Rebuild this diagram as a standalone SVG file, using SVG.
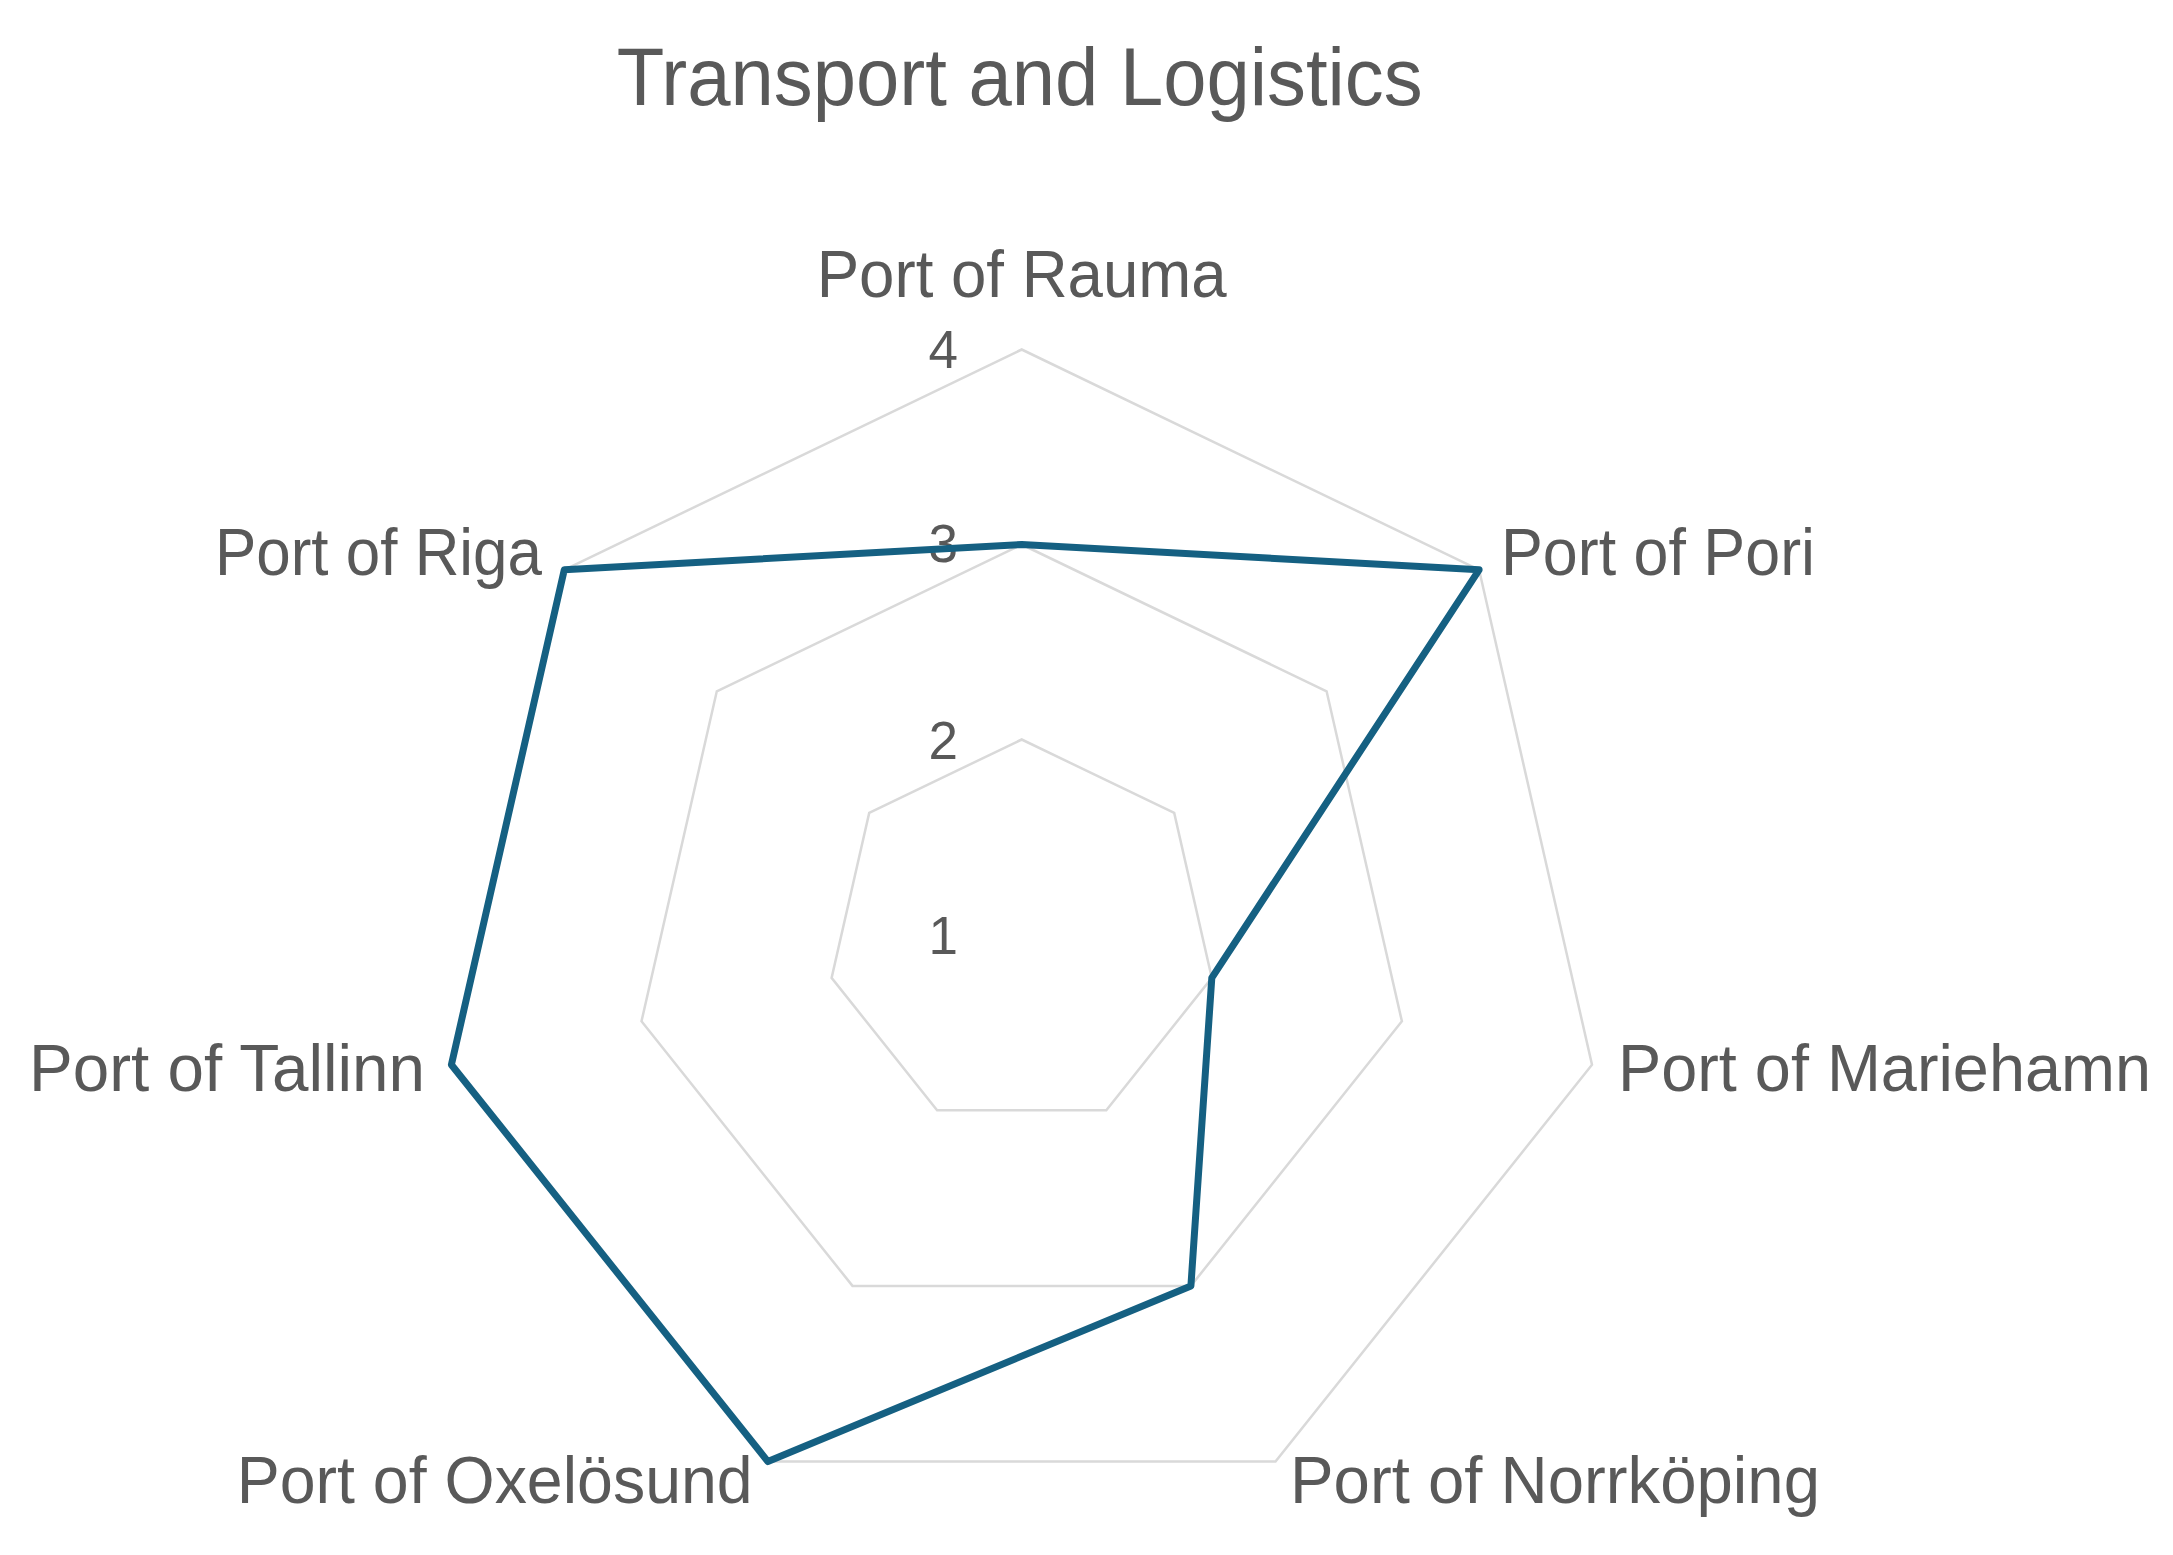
<svg xmlns="http://www.w3.org/2000/svg" width="2173" height="1555" viewBox="0 0 2173 1555">
  <style>
    .grid { fill: none; stroke: #d9d9d9; stroke-width: 2.5; }
    .data { fill: none; stroke: #156082; stroke-width: 7; stroke-linejoin: round; }
    .title { font-family: "Liberation Sans", Arial, sans-serif; font-size: 81px; fill: #595959; }
    .cat { font-family: "Liberation Sans", Arial, sans-serif; font-size: 67px; fill: #595959; }
    .tick { font-family: "Liberation Sans", Arial, sans-serif; font-size: 53px; fill: #595959; text-anchor: end; }
  </style>
  <rect width="2173" height="1555" fill="#ffffff"/>
  <g id="title">
    <text class="title" x="616.7" y="105" textLength="806" lengthAdjust="spacingAndGlyphs">Transport and Logistics</text>
  </g>
  <g id="gridlines">
    <polygon class="grid" points="1021.7,739.5 1174.2,812.9 1211.8,977.9 1106.3,1110.2 937.1,1110.2 831.6,977.9 869.2,812.9"/>
    <polygon class="grid" points="1021.7,544.5 1326.6,691.3 1401.9,1021.3 1190.9,1285.9 852.5,1285.9 641.5,1021.3 716.8,691.3"/>
    <polygon class="grid" points="1021.7,349.5 1479.1,569.8 1592.0,1064.7 1275.5,1461.6 767.9,1461.6 451.4,1064.7 564.3,569.8"/>
  </g>
  <g id="axis-ticks">
    <text class="tick" x="958" y="368">4</text>
    <text class="tick" x="958" y="562">3</text>
    <text class="tick" x="958" y="759">2</text>
    <text class="tick" x="958" y="954">1</text>
  </g>
  <g id="connectors">
    <polygon class="data" points="1021.7,544.5 1479.1,569.8 1211.8,977.9 1190.9,1285.9 767.9,1461.6 451.4,1064.7 564.3,569.8"/>
  </g>
  <g id="node-rauma"><text class="cat" x="816.7" y="297" textLength="410" lengthAdjust="spacingAndGlyphs">Port of Rauma</text></g>
  <g id="node-pori"><text class="cat" x="1501" y="575" textLength="314" lengthAdjust="spacingAndGlyphs">Port of Pori</text></g>
  <g id="node-mariehamn"><text class="cat" x="1618" y="1090.7" textLength="533" lengthAdjust="spacingAndGlyphs">Port of Mariehamn</text></g>
  <g id="node-norrkoping"><text class="cat" x="1290" y="1503" textLength="530" lengthAdjust="spacingAndGlyphs">Port of Norrköping</text></g>
  <g id="node-oxelosund"><text class="cat" x="236.7" y="1503" textLength="516" lengthAdjust="spacingAndGlyphs">Port of Oxelösund</text></g>
  <g id="node-tallinn"><text class="cat" x="29" y="1090.7" textLength="396" lengthAdjust="spacingAndGlyphs">Port of Tallinn</text></g>
  <g id="node-riga"><text class="cat" x="215" y="575" textLength="327" lengthAdjust="spacingAndGlyphs">Port of Riga</text></g>
</svg>
